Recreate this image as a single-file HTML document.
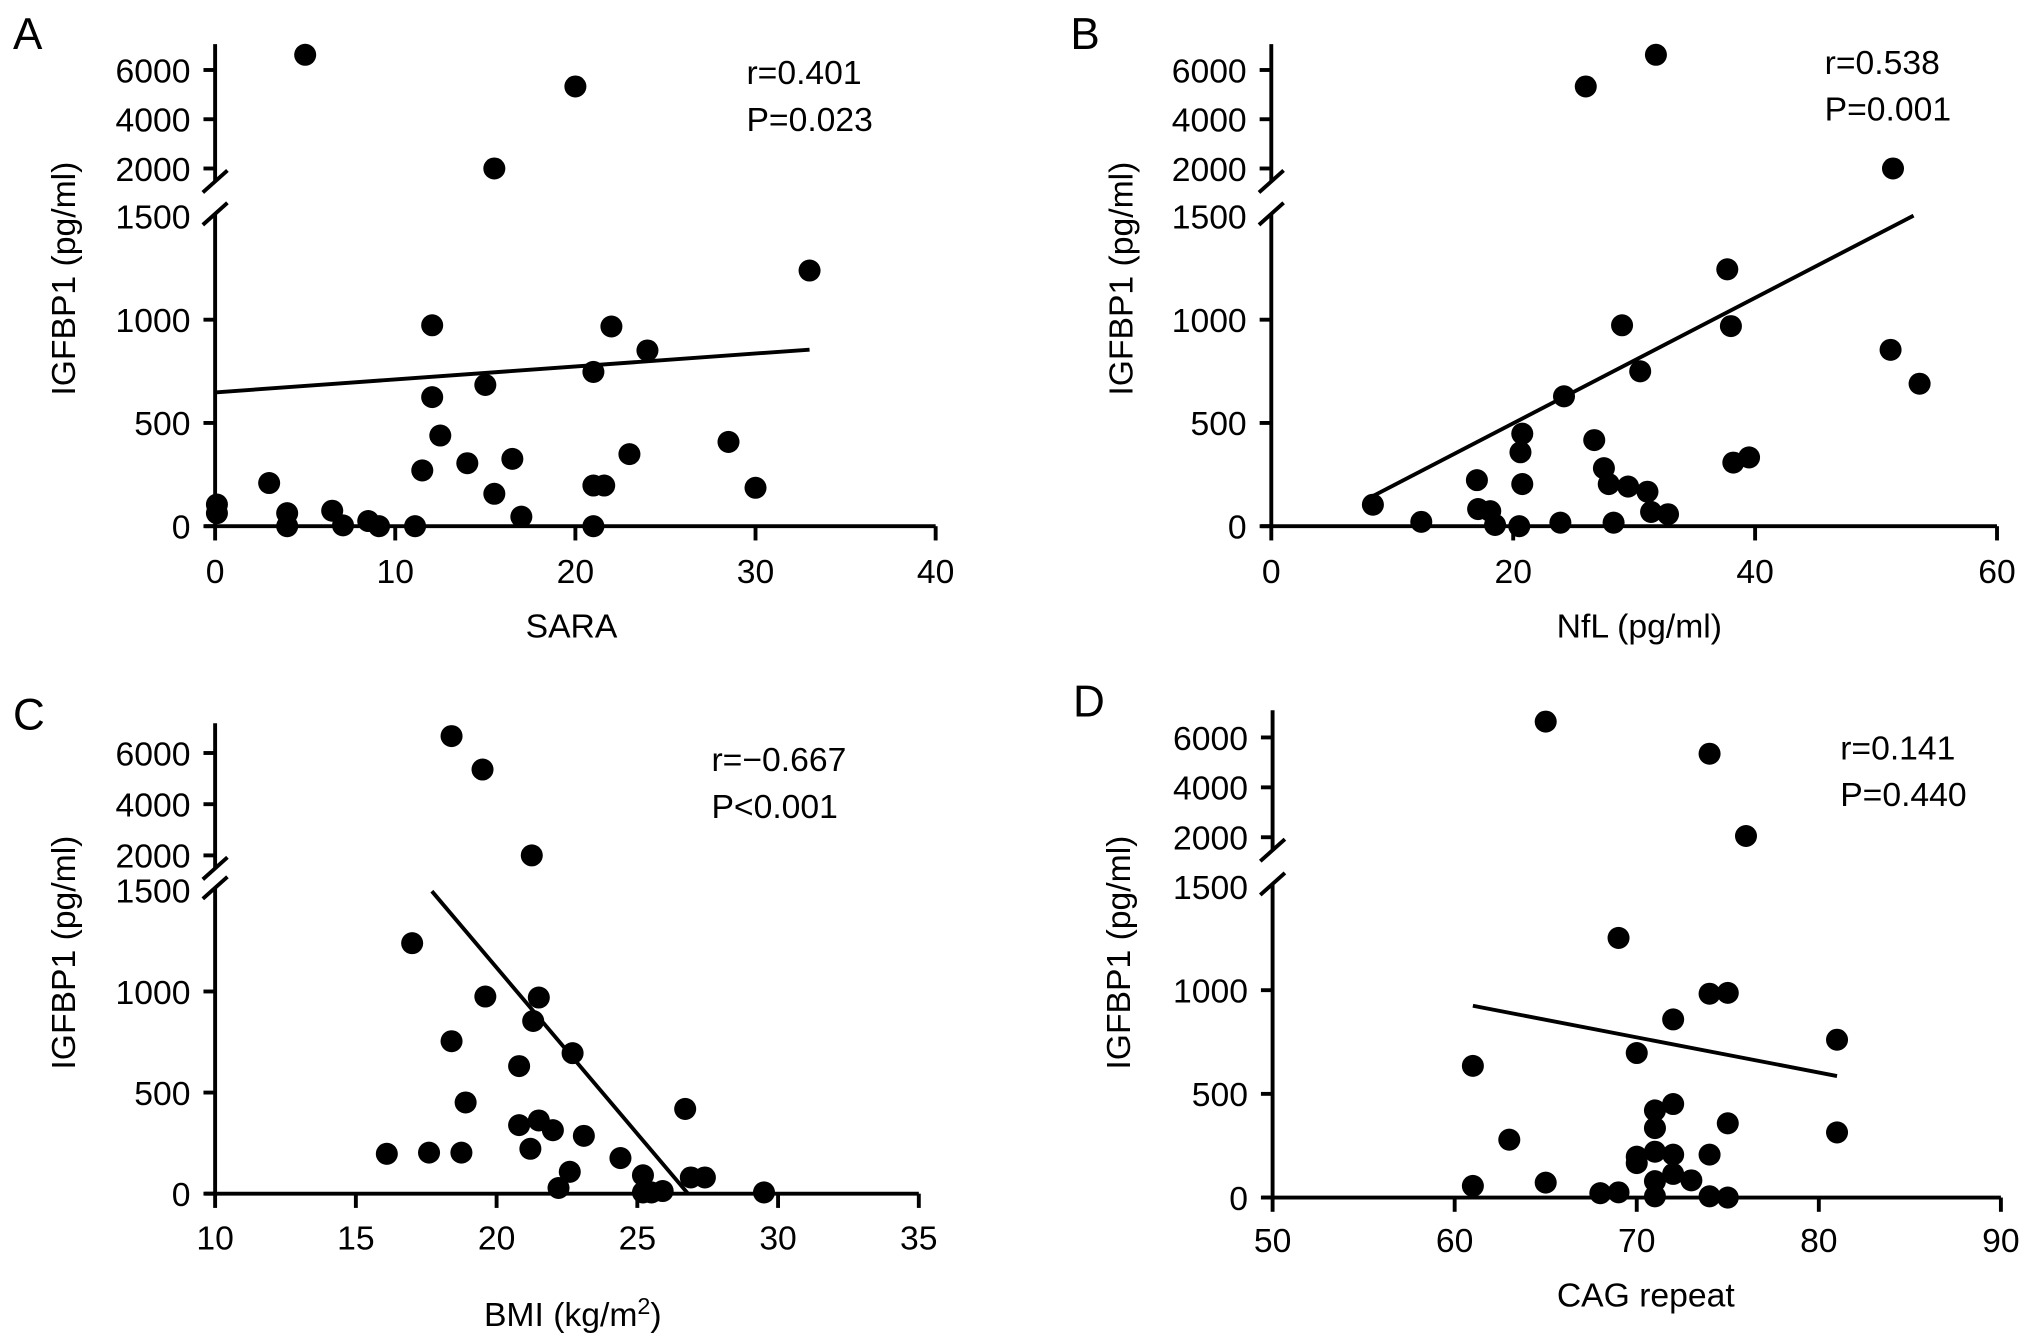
<!DOCTYPE html>
<html><head><meta charset="utf-8"><style>
html,body{margin:0;padding:0;background:#fff;}
svg{display:block;font-family:"Liberation Sans",Arial,sans-serif;}
</style></head><body>
<svg id="fig" width="2032" height="1344" viewBox="0 0 1568 1037" preserveAspectRatio="none" xmlns="http://www.w3.org/2000/svg"></svg>
<script>
// Panel A: SARA
const aX = [5.0,20.0,15.5,33,12.05,22.0,24.0,21.0,15.0,12.05,12.5,28.5,23.0,16.5,14.0,11.5,3.0,21.0,21.6,30.0,15.5,0.1,0.1,4.0,6.5,17.0,8.5,7.1,9.1,11.1,4.0,21.0];
const aY = [6617,5330,2000,1238,973,967,851,747,684,625,439,408,349,326,305,270,209,197,197,186,157,105,63,63,75,46,25,4,0,0,0,0];
const aFit = [[0,648],[33,855]];
// Panel B: NfL
const bX = [31.8,26.0,51.4,37.7,29.0,38.0,51.2,30.5,53.6,24.2,20.75,26.7,20.6,39.5,38.2,27.5,17.0,20.75,27.9,29.5,31.1,8.4,17.1,18.1,31.4,32.8,12.4,18.5,20.5,23.9,28.3];
const bY = [6617,5330,2000,1244,973,969,854,750,690,629,448,417,358,333,308,281,223,204,204,192,167,104,83,73,69,58,21,6,0,17,17];
const bFit = [[8.4,146],[53.1,1504]];
// Panel C: BMI
const cX = [18.4,19.5,21.25,17.0,19.6,21.5,21.3,22.7,18.4,20.8,18.9,26.7,21.5,20.8,22.0,23.1,21.2,16.1,17.6,18.75,24.4,22.6,25.2,26.9,27.4,22.2,25.9,25.2,25.5,29.5];
const cY = [6661,5355,2000,1239,975,970,854,695,754,631,451,419,362,339,314,286,222,197,203,203,176,108,91,80,80,28,13,6,6,6];
const cFit = [[17.7,1496],[26.8,0]];
// Panel D: CAG repeat
const dX = [65,74,76,69,74,75,72,81,70,61,72,71,75,71,81,63,71,70,72,74,70,72,73,71,65,61,68,69,71,74,75];
const dY = [6635,5348,2050,1252,983,987,859,761,697,635,451,420,358,335,314,279,221,197,207,207,166,114,83,79,72,56,21,25,6,6,0];
const dFit = [[61,925],[81,586]];
// tick labels
const aXTicks = [0,10,20,30,40];
const bXTicks = [0,20,40,60];
const cXTicks = [10,15,20,25,30,35];
const dXTicks = [50,60,70,80,90];
const lowTicks = [0,500,1000,1500];
const upTicks = [2000,4000,6000];

const NS = "http://www.w3.org/2000/svg";
const svg = document.getElementById('fig');
function mk(tag, attrs, parent){
  const e = document.createElementNS(NS, tag);
  for (const k in attrs) e.setAttribute(k, attrs[k]);
  (parent||svg).appendChild(e);
  return e;
}
const panels = [
  {id:'a', letter:'A', lx:10, ly:38, ax:166, xd:[0,40], xr:[166,722], xTicks:aXTicks, y0:406, y1500:167, y2000:130, y6000:54, top:34,
   xs:aX, ys:aY, fit:aFit, title:'SARA', tx:441, ty:492, lblY:450, sx:576, sy:65, r:'r=0.401', p:'P=0.023', ytx:58, yty:215},
  {id:'b', letter:'B', lx:826, ly:38, ax:981, xd:[0,60], xr:[981,1541], xTicks:bXTicks, y0:406, y1500:167, y2000:130, y6000:54, top:34,
   xs:bX, ys:bY, fit:bFit, title:'NfL (pg/ml)', tx:1265, ty:492, lblY:450, sx:1408, sy:57, r:'r=0.538', p:'P=0.001', ytx:874, yty:215},
  {id:'c', letter:'C', lx:10, ly:563, ax:166, xd:[10,35], xr:[166,709], xTicks:cXTicks, y0:921, y1500:687, y2000:660, y6000:581, top:558,
   xs:cX, ys:cY, fit:cFit, title:'BMI (kg/m', tx:442, ty:1023, lblY:964, sx:549, sy:595, r:'r=\u22120.667', p:'P<0.001', ytx:58, yty:735},
  {id:'d', letter:'D', lx:828, ly:553, ax:982, xd:[50,90], xr:[982,1544], xTicks:dXTicks, y0:924, y1500:684, y2000:646, y6000:569, top:548,
   xs:dX, ys:dY, fit:dFit, title:'CAG repeat', tx:1270, ty:1008, lblY:966, sx:1420, sy:586, r:'r=0.141', p:'P=0.440', ytx:872, yty:735}
];
panels.forEach(P => {
  const g = mk('g', {});
  
  
  const xs = v => P.xr[0] + (v - P.xd[0]) / (P.xd[1] - P.xd[0]) * (P.xr[1] - P.xr[0]);
  const ys = v => v <= 1750 ? P.y0 - v / 1500 * (P.y0 - P.y1500)
                            : P.y2000 - (v - 2000) / 4000 * (P.y2000 - P.y6000);
  const L = mk('text', {x:P.lx, y:P.ly, 'font-size':34, fill:'#000'}, g);
  L.textContent = P.letter;
  
  
  const ax = P.ax, sw = 3;
  const upBot = P.y2000 + 10, lowTop = P.y1500 - 2;
  const ya = mk('path', {d:`M${ax},${P.top}V${upBot}M${ax},${lowTop}V${P.y0}`, stroke:'#000', 'stroke-width':sw, fill:'none'}, g);
  
  
  const br = mk('path', {d:`M${ax-9.5},${upBot+8.5}L${ax+9.5},${upBot-8.5}M${ax-9.5},${lowTop+8.5}L${ax+9.5},${lowTop-8.5}`, stroke:'#000', 'stroke-width':sw}, g);
  
  
  const xa = mk('line', {x1:ax-8, x2:xs(P.xd[1]), y1:P.y0, y2:P.y0, stroke:'#000', 'stroke-width':sw}, g);
  
  
  P.xTicks.forEach(t => {
    const x = xs(t);
    mk('line', {x1:x, x2:x, y1:P.y0, y2:P.y0+11, stroke:'#000', 'stroke-width':sw}, g);
    const tl = mk('text', {x:x, y:P.lblY, 'font-size':26, 'text-anchor':'middle'}, g);
    tl.textContent = t;
    
    
  });
  lowTicks.concat(upTicks).forEach(t => {
    const y = ys(t);
    if (t !== 1500) mk('line', {x1:ax-9, x2:ax, y1:y, y2:y, stroke:'#000', 'stroke-width':sw}, g);
    const tl = mk('text', {x:ax-19, y:y+9.5, 'font-size':26, 'text-anchor':'end'}, g);
    tl.textContent = t;
    
    
  });
  const yt = mk('text', {x:P.ytx, y:P.yty, 'font-size':26, 'text-anchor':'middle', transform:`rotate(-90 ${P.ytx} ${P.yty})`}, g);
  yt.textContent = 'IGFBP1 (pg/ml)';
  
  
  const xt = mk('text', {x:P.tx, y:P.ty, 'font-size':26, 'text-anchor':'middle'}, g);
  xt.textContent = P.title;
  if (P.id === 'c') {
    const sup = mk('tspan', {'font-size':18, dy:-9}, xt); sup.textContent = '2';
    const cl = mk('tspan', {'font-size':26, dy:9}, xt); cl.textContent = ')';
  }
  
  
  const r = mk('text', {x:P.sx, y:P.sy, 'font-size':26}, g);
  r.textContent = P.r;
  
  
  const p = mk('text', {x:P.sx, y:P.sy+36, 'font-size':26}, g);
  p.textContent = P.p;
  
  
  const fl = mk('line', {x1:xs(P.fit[0][0]), y1:ys(P.fit[0][1]), x2:xs(P.fit[1][0]), y2:ys(P.fit[1][1]), stroke:'#000', 'stroke-width':3}, g);
  
  
  P.xs.forEach((v, i) => {
    const c = mk('circle', {cx:xs(v), cy:ys(P.ys[i]), r:8.5, fill:'#000'}, g);
    
    
  });
});
</script>
</body></html>
